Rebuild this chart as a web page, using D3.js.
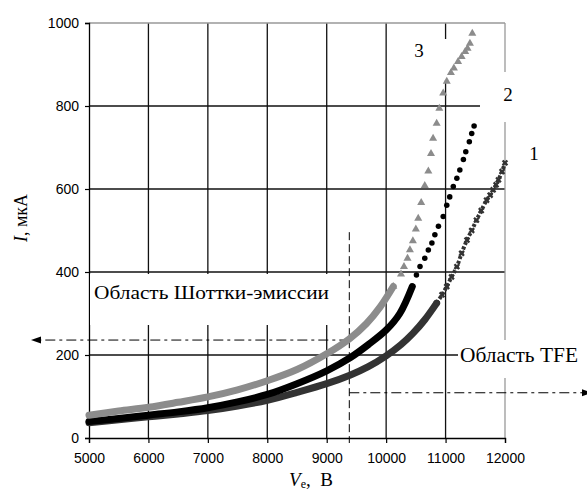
<!DOCTYPE html>
<html><head><meta charset="utf-8">
<script src="https://cdn.jsdelivr.net/npm/d3@7/dist/d3.min.js"></script>
<style>body{margin:0;background:#fff}svg{display:block}</style>
</head><body>
<svg id="c" width="587" height="491"></svg>
<script>
// ---- data ----
const xTicks = [5000, 6000, 7000, 8000, 9000, 10000, 11000, 12000];
const yTicks = [0, 200, 400, 600, 800, 1000];
const seriesNames = ["1", "2", "3"];
// curve 1 (dark grey stars)
const curve1 = [[5000,37],[5500,44],[6000,51],[6500,58],[7000,66],[7500,77],[8000,91],[8500,110],[9000,131],[9400,152],[9700,172],[10000,198],[10250,225],[10450,252],[10650,285],[10850,325],[10940,345],[11020,365],[11100,388],[11190,413],[11270,445],[11360,477],[11440,500],[11520,525],[11600,548],[11690,573],[11750,585],[11800,598],[11850,610],[11890,622],[11950,642],[12000,663]];
// curve 2 (black circles)
const curve2 = [[5000,40],[5500,47],[6000,55],[6500,63],[7000,73],[7500,87],[8000,105],[8500,131],[9000,162],[9400,194],[9700,225],[10000,260],[10230,300],[10440,365],[10510,393],[10570,413],[10650,433],[10710,453],[10770,470],[10820,490],[10880,510],[10960,534],[11020,561],[11070,581],[11130,606],[11190,626],[11240,646],[11300,671],[11340,690],[11400,714],[11440,734],[11480,752]];
// curve 3 (grey triangles)
const curve3 = [[5000,55],[5500,65],[6000,74],[6500,86],[7000,99],[7500,116],[8000,138],[8500,165],[9000,203],[9390,240],[9670,276],[9900,316],[10120,365],[10250,395],[10300,413],[10360,433],[10400,453],[10450,475],[10500,503],[10540,529],[10590,567],[10650,608],[10710,643],[10755,685],[10790,722],[10850,758],[10895,794],[10960,831],[11020,859],[11090,880],[11140,891],[11210,907],[11270,919],[11330,931],[11370,939],[11410,951],[11450,975]];
const boundaryV = 9380;
const schottkyI = 236;
const tfeI = 109;
const labels = {schottky: "Область Шоттки-эмиссии", tfe: "Область TFE"};

// ---- drawing ----
const svg = d3.select("#c");
const x = d3.scaleLinear().domain([5000, 12000]).range([89, 505]);
const y = d3.scaleLinear().domain([0, 1000]).range([438, 23]);
const serif = "'Liberation Serif','Times New Roman',serif";
const sans = "'Liberation Sans',Arial,sans-serif";

// grid
const g = svg.append("g");
g.selectAll("line.v").data(xTicks.filter(d => d > 5000 && d < 12000)).join("line")
  .attr("x1", d => x(d)).attr("x2", d => x(d)).attr("y1", y(1000)).attr("y2", y(0))
  .attr("stroke", "#111").attr("stroke-width", 1.3);
g.selectAll("line.h").data(yTicks.filter(d => d > 0 && d < 1000)).join("line")
  .attr("x1", x(5000)).attr("x2", x(12000)).attr("y1", d => y(d)).attr("y2", d => y(d))
  .attr("stroke", "#111").attr("stroke-width", 1.3);
g.append("line").attr("x1", x(5000)).attr("x2", x(12000)).attr("y1", y(1000)).attr("y2", y(1000)).attr("stroke", "#999").attr("stroke-width", 1.3);
g.append("line").attr("x1", x(12000)).attr("x2", x(12000)).attr("y1", y(1000)).attr("y2", y(0)).attr("stroke", "#999").attr("stroke-width", 1.3);

// axes
const ax = svg.append("g").attr("transform", `translate(0,${y(0)})`)
  .call(d3.axisBottom(x).tickValues(xTicks).tickSize(5).tickPadding(10).tickFormat(d3.format("d")));
const ay = svg.append("g").attr("transform", `translate(${x(5000)},0)`)
  .call(d3.axisLeft(y).tickValues(yTicks).tickSize(4).tickPadding(6).tickFormat(d3.format("d")));
[ax, ay].forEach(a => {
  a.select(".domain").attr("stroke", "#000").attr("stroke-width", 1.3);
  a.selectAll(".tick line").attr("stroke", "#000").attr("stroke-width", 1.2);
  a.selectAll("text").attr("font-family", sans).attr("font-size", 14).attr("fill", "#000");
});

// label boxes (white, cover grid)
function box(x0, y0, w, h) {
  svg.append("rect").attr("x", x0).attr("y", y0).attr("width", w).attr("height", h).attr("fill", "#fff");
}
box(90, 274, 250, 51);
box(396, 39, 52, 41);
box(480, 72, 55, 50);
box(458, 340, 129, 38);

// dashed boundary
svg.append("line").attr("x1", x(boundaryV)).attr("x2", x(boundaryV)).attr("y1", y(496)).attr("y2", y(0) + 5)
  .attr("stroke", "#000").attr("stroke-width", 1).attr("stroke-dasharray", "8,4");
// dash-dot arrows
svg.append("line").attr("x1", x(boundaryV)).attr("x2", 40).attr("y1", y(schottkyI)).attr("y2", y(schottkyI))
  .attr("stroke", "#000").attr("stroke-width", 1).attr("stroke-dasharray", "10,4,3,4");
svg.append("path").attr("d", `M31,${y(schottkyI)} l10,-3.5 l0,7 z`).attr("fill", "#000");
svg.append("line").attr("x1", x(boundaryV)).attr("x2", 582).attr("y1", y(tfeI)).attr("y2", y(tfeI))
  .attr("stroke", "#000").attr("stroke-width", 1).attr("stroke-dasharray", "10,4,3,4");
svg.append("path").attr("d", `M592,${y(tfeI)} l-10,-3.5 l0,7 z`).attr("fill", "#000");

// series
const series = [
  {data: curve1, color: "#333", sym: d3.symbolCross, size: 26, dense: 10900, rot: 45, chain: true},
  {data: curve2, color: "#000", sym: d3.symbolCircle, size: 24, dense: 10440, rot: 0, chain: false},
  {data: curve3, color: "#8c8c8c", sym: d3.symbolTriangle, size: 28, dense: 10120, rot: 0, chain: false}
];
const line = d3.line().x(d => x(d[0])).y(d => y(d[1])).curve(d3.curveCatmullRom);
series.forEach(s => {
  const dense = s.data.filter(d => d[0] <= s.dense);
  const sparse = s.data.filter(d => d[0] >= dense[dense.length - 1][0]);
  svg.append("path").attr("d", line(dense)).attr("fill", "none")
    .attr("stroke", s.color).attr("stroke-width", 7).attr("stroke-linecap", "round");
  if (s.chain) {
    svg.append("path").attr("d", line(sparse)).attr("fill", "none")
      .attr("stroke", s.color).attr("stroke-width", 4).attr("stroke-dasharray", "3,2");
  }
  svg.append("g").selectAll("path").data(sparse).join("path")
    .attr("d", d3.symbol().type(s.sym).size(s.size))
    .attr("transform", d => `translate(${x(d[0])},${y(d[1])}) rotate(${s.rot})`)
    .attr("fill", s.color);
});

// curve numbers
const numPos = [[534, 160], [508, 101], [419, 57]];
seriesNames.forEach((n, i) => {
  svg.append("text").attr("x", numPos[i][0]).attr("y", numPos[i][1]).attr("text-anchor", "middle")
    .attr("font-family", serif).attr("font-size", 19).text(n);
});

// region labels
svg.append("text").attr("x", 94).attr("y", 299).attr("font-family", serif).attr("font-size", 19)
  .attr("textLength", 235).attr("lengthAdjust", "spacingAndGlyphs").text(labels.schottky);
svg.append("text").attr("x", 460).attr("y", 362).attr("font-family", serif).attr("font-size", 21)
  .attr("textLength", 118).attr("lengthAdjust", "spacingAndGlyphs").text(labels.tfe);

// axis titles
const yt = svg.append("text").attr("transform", "translate(27,218) rotate(-90)").attr("text-anchor", "middle")
  .attr("font-family", serif).attr("font-size", 18);
yt.append("tspan").attr("font-style", "italic").text("I");
yt.append("tspan").text(", мкА");
const xt = svg.append("text").attr("x", 311).attr("y", 486).attr("text-anchor", "middle")
  .attr("font-family", serif).attr("font-size", 19);
xt.append("tspan").attr("font-style", "italic").text("V");
xt.append("tspan").attr("font-size", 12).attr("dy", 2).text("e");
xt.append("tspan").attr("dy", -2).attr("xml:space", "preserve").text(",\u00a0\u00a0В");
</script>
</body></html>
